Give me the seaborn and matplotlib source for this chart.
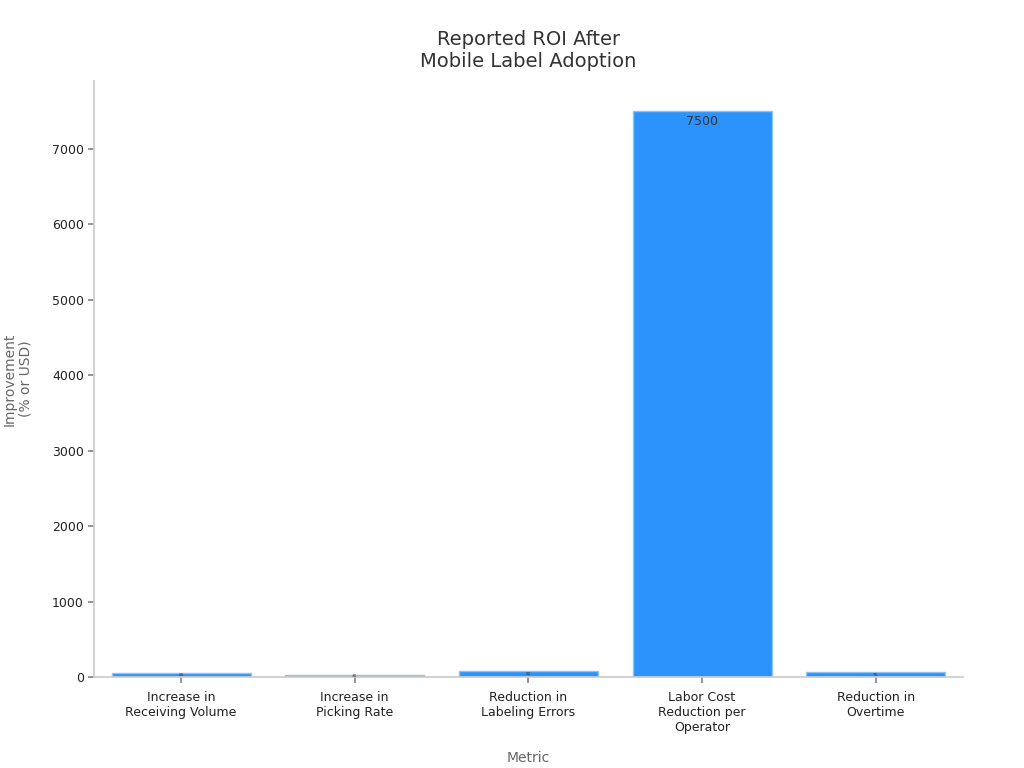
import matplotlib
matplotlib.use('Agg')
import matplotlib.pyplot as plt
import seaborn as sns
import pandas as pd

metrics = ['Increase in\nReceiving Volume', 'Increase in\nPicking Rate', 'Reduction in\nLabeling Errors',
           'Labor Cost\nReduction per\nOperator', 'Reduction in\nOvertime']
values = [60, 30, 90, 7500, 75]

sns.set_theme(style='white')
plt.rcParams['font.family'] = ['DejaVu Sans']

df = pd.DataFrame({'Metric': metrics, 'Improvement': values})
fig, ax = plt.subplots(figsize=(10.24, 7.68), dpi=100)
sns.barplot(data=df, x='Metric', y='Improvement', color='#2b93fb', saturation=1,
            edgecolor='#8cc4f5', linewidth=1, width=0.8, ax=ax)
for p, v in zip(ax.patches, values):
    x = p.get_x() + p.get_width() / 2
    if v > 1000:
        ax.text(x, v - 60, str(v), ha='center', va='top', fontsize=9, color='#333333')
    else:
        # value label sits inside the thin bar, mostly hidden like the original
        ax.text(x, v / 2, str(v), ha='center', va='center', fontsize=3, color='#333333')

ax.set_title('Reported ROI After\nMobile Label Adoption', fontsize=14, color='#333333', pad=10)
ax.set_xlabel('Metric', fontsize=10, color='#666666', labelpad=12)
ax.set_ylabel('Improvement\n(% or USD)', fontsize=10, color='#666666', labelpad=14)
ax.tick_params(axis='both', labelsize=9, colors='#222222', length=4, left=True, bottom=True)
ax.tick_params(axis='both', color='#888888')
ax.tick_params(axis='x', pad=6)
for s in ['top', 'right']:
    ax.spines[s].set_visible(False)
for s in ['left', 'bottom']:
    ax.spines[s].set_color('#cccccc')
ax.set_ylim(0, 7900)
plt.subplots_adjust(left=0.092, right=0.94, top=0.895, bottom=0.118)
plt.savefig('out.png')
